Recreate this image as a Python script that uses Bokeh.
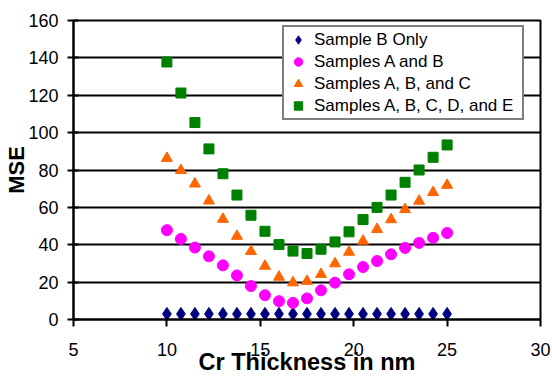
from bokeh.plotting import figure
from bokeh.models import Range1d, FixedTicker, Legend, LegendItem
from bokeh.embed import file_html
from bokeh.resources import INLINE

thickness = [10, 10.75, 11.5, 12.25, 13, 13.75, 14.5, 15.25, 16, 16.75, 17.5,
             18.25, 19, 19.75, 20.5, 21.25, 22, 22.75, 23.5, 24.25, 25]
sample_b_only = [3, 3, 3, 3, 3, 3, 3, 3, 3, 3, 3, 3, 3, 3, 3, 3, 3, 3, 3, 3, 3]
samples_ab = [47.8, 43.1, 38.5, 33.8, 29.0, 23.6, 17.9, 13.0, 9.8, 8.9, 11.3,
              15.6, 19.7, 24.2, 28.1, 31.3, 34.9, 38.3, 41.0, 43.7, 46.3]
samples_abc = [86.3, 79.8, 72.6, 63.5, 53.7, 44.6, 36.5, 28.6, 22.7, 19.7, 20.5,
               24.2, 29.9, 36.1, 42.0, 48.3, 53.5, 58.9, 63.4, 68.0, 71.9]
samples_abcde = [137.8, 121.2, 105.4, 91.3, 78.0, 66.6, 55.8, 47.2, 40.1, 36.6, 35.3,
                 37.6, 41.5, 46.9, 53.5, 60.0, 66.6, 73.4, 80.0, 86.8, 93.4]
series_names = ["Sample B Only", "Samples A and B", "Samples A, B, and C",
                "Samples A, B, C, D, and E"]
x_ticks = [5, 10, 15, 20, 25, 30]
y_ticks = [0, 20, 40, 60, 80, 100, 120, 140, 160]

FONT = "Liberation Sans"

p = figure(width=552, height=378, output_backend="svg", toolbar_location=None,
           x_range=Range1d(5, 30), y_range=Range1d(0, 160),
           min_border_left=73, min_border_right=12, min_border_top=20,
           min_border_bottom=59, background_fill_color="white",
           border_fill_color="white")

p.outline_line_color = "black"
p.outline_line_width = 2

p.xgrid.visible = False
p.ygrid.ticker = FixedTicker(ticks=y_ticks)
p.ygrid.grid_line_color = "black"
p.ygrid.grid_line_width = 2

p.xaxis.ticker = FixedTicker(ticks=x_ticks)
p.yaxis.ticker = FixedTicker(ticks=y_ticks)
for ax in (p.xaxis[0], p.yaxis[0]):
    ax.axis_line_color = "black"
    ax.axis_line_width = 2
    ax.major_tick_line_color = "black"
    ax.major_tick_line_width = 2
    ax.minor_tick_line_color = None
    ax.major_label_text_font = FONT
    ax.major_label_text_font_size = "18px"
    ax.major_label_text_color = "black"
    ax.axis_label_text_font = FONT
    ax.axis_label_text_font_style = "bold"
    ax.axis_label_text_color = "black"

p.xaxis.major_tick_in = 0
p.xaxis.major_tick_out = 7
p.xaxis.major_label_standoff = 16
p.xaxis.axis_label = "Cr Thickness in nm"
p.xaxis.axis_label_text_font_size = "23.5px"
p.xaxis.axis_label_standoff = -10

p.yaxis.major_tick_in = 5
p.yaxis.major_tick_out = 6
p.yaxis.major_label_standoff = 9
p.yaxis.axis_label = "MSE"
p.yaxis.axis_label_text_font_size = "22px"
p.yaxis.axis_label_standoff = -4

r1 = p.scatter(thickness, sample_b_only, marker="diamond", size=13,
               fill_color="#000080", line_color="#000080")
r2 = p.scatter(thickness, samples_ab, marker="circle", size=11,
               fill_color="#FF00FF", line_color="#FF00FF")
r3 = p.scatter(thickness, samples_abc, marker="triangle", size=11,
               fill_color="#FF6600", line_color="#FF6600")
r4 = p.scatter(thickness, samples_abcde, marker="square", size=10,
               fill_color="#008000", line_color="#008000")

legend = Legend(items=[LegendItem(label=n, renderers=[r]) for n, r in
                       zip(series_names, [r1, r2, r3, r4])],
                location=(209, 199))
legend.label_text_font = FONT
legend.label_text_font_size = "17px"
legend.label_text_color = "black"
legend.border_line_color = "black"
legend.border_line_width = 2
legend.background_fill_color = "white"
legend.background_fill_alpha = 1
legend.padding = 2
legend.spacing = 1
legend.margin = 0
legend.glyph_width = 24
legend.glyph_height = 21
legend.label_height = 21
legend.label_width = 206
legend.label_standoff = 4
p.add_layout(legend)

open("out.html", "w").write(file_html(p, INLINE))
